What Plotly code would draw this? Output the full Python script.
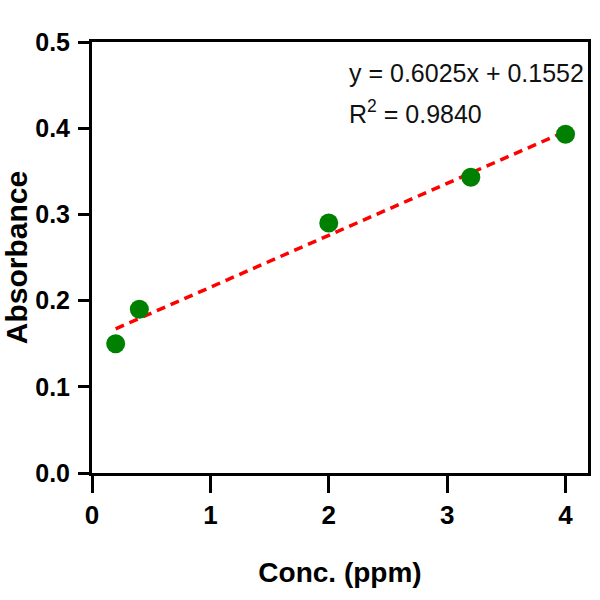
import plotly.graph_objects as go

# Data
conc = [0.2, 0.4, 2.0, 3.2, 4.0]
absorbance = [0.150, 0.190, 0.290, 0.343, 0.393]

# Trend line endpoints (from fitted equation shown on chart)
fit_x = [0.2, 4.0]
fit_y = [0.1673, 0.3962]

x_ticks = [0, 1, 2, 3, 4]
y_ticks = [0.0, 0.1, 0.2, 0.3, 0.4, 0.5]
y_tick_text = ["0.0", "0.1", "0.2", "0.3", "0.4", "0.5"]

eq_text = "y = 0.6025x + 0.1552"
r2_text = "R<sup>2</sup> = 0.9840"

FONT = "Arial, Liberation Sans, sans-serif"

fig = go.Figure()
fig.add_trace(go.Scatter(
    x=fit_x, y=fit_y, mode="lines",
    line=dict(color="#ff0000", width=3.5, dash="9px,6px"),
    showlegend=False, hoverinfo="skip"))
fig.add_trace(go.Scatter(
    x=conc, y=absorbance, mode="markers",
    marker=dict(color="#008000", size=19, line=dict(width=0)),
    showlegend=False))

fig.add_annotation(x=2.156, y=0.464, xref="x", yref="y", text=eq_text,
                   showarrow=False, xanchor="left", yanchor="middle",
                   font=dict(family=FONT, size=25, color="#111"))
fig.add_annotation(x=2.156, y=0.419, xref="x", yref="y", text=r2_text,
                   showarrow=False, xanchor="left", yanchor="middle",
                   font=dict(family=FONT, size=25, color="#111"))

fig.update_layout(
    width=600, height=600,
    margin=dict(l=92, r=12, t=42, b=127),
    paper_bgcolor="white", plot_bgcolor="white",
    font=dict(family=FONT, color="black"),
)
fig.update_xaxes(
    range=[0, 4.19], tickvals=x_ticks, ticktext=[str(v) for v in x_ticks],
    showgrid=False, zeroline=False, automargin=False,
    showline=True, linecolor="black", linewidth=3, mirror=True,
    ticks="outside", ticklen=17, tickwidth=3, tickcolor="black",
    tickfont=dict(family=FONT, size=26, color="black", weight="bold"),
    title=dict(text="<b>Conc. (ppm)</b>", font=dict(family=FONT, size=28, color="black"), standoff=34),
)
fig.update_yaxes(
    range=[0, 0.5], tickvals=y_ticks, ticktext=y_tick_text,
    showgrid=False, zeroline=False, automargin=False,
    showline=True, linecolor="black", linewidth=3, mirror=True,
    ticks="outside", ticklen=11, tickwidth=3, tickcolor="black",
    ticklabelstandoff=3,
    tickfont=dict(family=FONT, size=25, color="black", weight="bold"),
    title=dict(text="<b>Absorbance</b>", font=dict(family=FONT, size=30, color="black"), standoff=12),
)

fig.write_html("out.html")
